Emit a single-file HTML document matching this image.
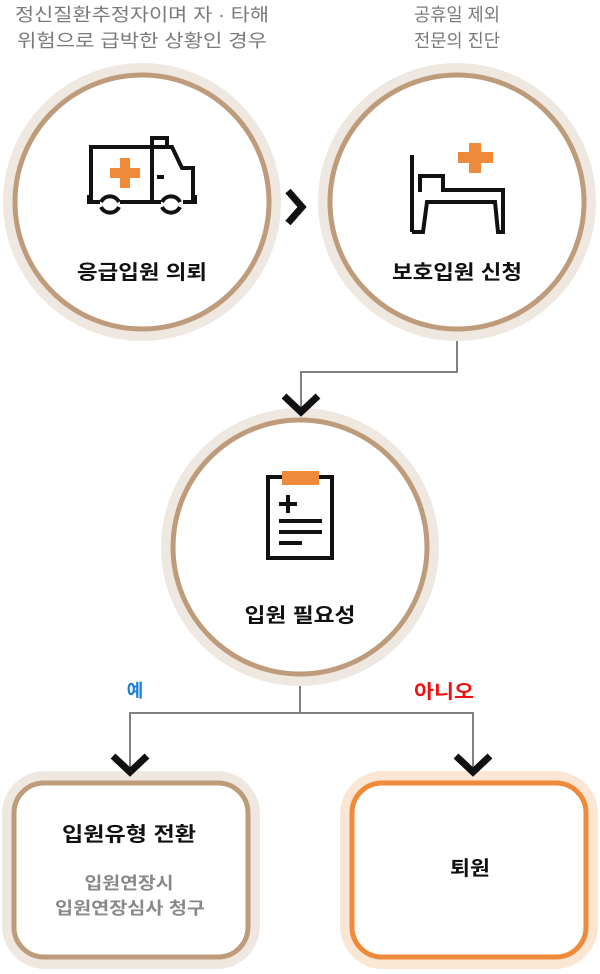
<!DOCTYPE html>
<html><head><meta charset="utf-8"><style>
html,body{margin:0;padding:0;background:#fff;}
svg{display:block;}
text{font-family:"Liberation Sans","Noto Sans CJK KR",sans-serif;}
</style></head><body>
<svg width="600" height="974" viewBox="0 0 600 974" xmlns="http://www.w3.org/2000/svg">
<g fill="#7a7a7a" font-size="18" text-anchor="middle">
<text x="142" y="21" textLength="254" lengthAdjust="spacingAndGlyphs">정신질환추정자이며 자 · 타해</text>
<text x="142" y="47" textLength="250" lengthAdjust="spacingAndGlyphs">위험으로 급박한 상황인 경우</text>
<text x="457" y="21" textLength="86" lengthAdjust="spacingAndGlyphs">공휴일 제외</text>
<text x="457" y="47" textLength="86" lengthAdjust="spacingAndGlyphs">전문의 진단</text>
</g>
<g stroke="#808080" stroke-width="2" fill="none">
<polyline points="457,330 457,372 301,372 301,410"/>
<polyline points="300,673 300,713 130,713 130,772"/>
<polyline points="300,713 473,713 473,772"/>
</g>
<g fill="#fff">
<circle cx="142" cy="202" r="133" stroke="#efe8e0" stroke-width="12"/>
<circle cx="142" cy="202" r="127" stroke="#bd9b7b" stroke-width="5"/>
<circle cx="457" cy="202" r="133" stroke="#efe8e0" stroke-width="12"/>
<circle cx="457" cy="202" r="127" stroke="#bd9b7b" stroke-width="5"/>
<circle cx="300" cy="547" r="133" stroke="#efe8e0" stroke-width="12"/>
<circle cx="300" cy="547" r="127" stroke="#bd9b7b" stroke-width="5"/>
</g>
<rect x="7" y="776" width="248" height="188" rx="38" fill="#fff" stroke="#efe8e0" stroke-width="10"/>
<rect x="14" y="783" width="234" height="174" rx="30" fill="#fff" stroke="#bd9b7b" stroke-width="5"/>
<rect x="345" y="776" width="248" height="188" rx="38" fill="#fff" stroke="#fbe6d3" stroke-width="10"/>
<rect x="352" y="783" width="234" height="174" rx="30" fill="#fff" stroke="#ef8a3b" stroke-width="5"/>
<g stroke="#111" stroke-width="7" fill="none">
<polyline points="288,191 302,207 288,223"/>
<polyline points="284,396 301,412 318,396"/>
<polyline points="113,756 130,772 147,756"/>
<polyline points="456,756 473,772 490,756"/>
</g>
<g stroke="#111" stroke-width="4" fill="none">
<path d="M91,202 V147 H152 V202"/>
<path d="M152,147 H172 L182,168 H193 V202"/>
<rect x="152" y="138" width="15" height="9"/>
<line x1="157" y1="177" x2="164" y2="177"/>
<path d="M89,195 V202 H100 M120,202 H161 M183,202 H195 V195"/>
<path d="M101,207 A10,10 0 0 0 119,207"/>
<path d="M162,207 A10,10 0 0 0 180,207"/>
<path d="M101,202 A10,10 0 0 1 119,202"/>
<path d="M162,202 A10,10 0 0 1 180,202"/>
</g>
<path d="M120,158 h10 v10 h10 v10 h-10 v10 h-10 v-10 h-10 v-10 h10z" fill="#ef8a3b"/>
<g stroke="#111" stroke-width="4" fill="none">
<line x1="412" y1="155" x2="412" y2="232"/>
<path d="M420,192 V176 H443 V190 H503 V232 H498 L495,202 H427 L423,232 H412"/>
</g>
<path d="M469,143 h12 v9 h12 v11 h-12 v10 h-12 v-10 h-11 v-11 h11z" fill="#ef8a3b"/>
<g stroke="#111" stroke-width="4" fill="none">
<path d="M283,477 H268 V558 H332 V477 H317"/>
<line x1="279" y1="504" x2="297" y2="504"/>
<line x1="288" y1="495" x2="288" y2="513"/>
<line x1="279" y1="521" x2="322" y2="521"/>
<line x1="279" y1="532" x2="322" y2="532"/>
<line x1="279" y1="543" x2="302" y2="543"/>
</g>
<rect x="282" y="471" width="37" height="14" fill="#ef8a3b"/>
<g font-size="20" font-weight="bold" fill="#111" text-anchor="middle">
<text x="142" y="279" textLength="130" lengthAdjust="spacingAndGlyphs">응급입원 의뢰</text>
<text x="457" y="279" textLength="130" lengthAdjust="spacingAndGlyphs">보호입원 신청</text>
<text x="300" y="622" textLength="111" lengthAdjust="spacingAndGlyphs">입원 필요성</text>
<text x="129" y="841" textLength="134" lengthAdjust="spacingAndGlyphs">입원유형 전환</text>
<text x="470" y="875" textLength="40" lengthAdjust="spacingAndGlyphs">퇴원</text>
</g>
<g font-size="17" font-weight="bold" fill="#888" text-anchor="middle">
<text x="129" y="889" textLength="89" lengthAdjust="spacingAndGlyphs">입원연장시</text>
<text x="130" y="914" textLength="150" lengthAdjust="spacingAndGlyphs">입원연장심사 청구</text>
</g>
<text x="135" y="697" font-size="18" font-weight="bold" fill="#1a7fd6" text-anchor="middle">예</text>
<text x="444" y="698" font-size="19" font-weight="bold" fill="#f01010" text-anchor="middle" textLength="60" lengthAdjust="spacingAndGlyphs">아니오</text>
</svg>
</body></html>
